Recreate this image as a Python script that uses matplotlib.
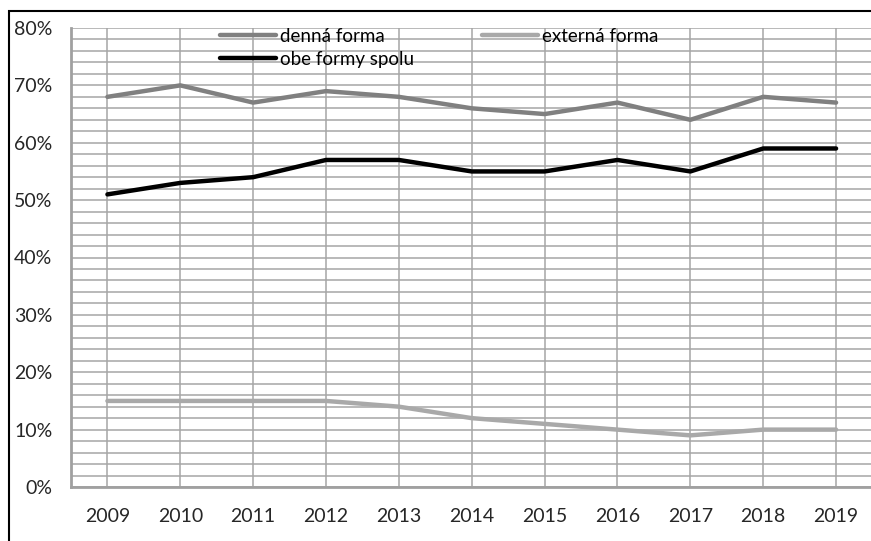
import matplotlib.pyplot as plt
from matplotlib.patches import Rectangle
from matplotlib.ticker import MultipleLocator, PercentFormatter

# Údaje z grafu (percentá)
roky = ['2009', '2010', '2011', '2012', '2013', '2014', '2015', '2016', '2017', '2018', '2019']
denna = [68, 70, 67, 69, 68, 66, 65, 67, 64, 68, 67]
externa = [15, 15, 15, 15, 14, 12, 11, 10, 9, 10, 10]
spolu = [51, 53, 54, 57, 57, 55, 55, 57, 55, 59, 59]

plt.rcParams['font.family'] = ['Lato', 'DejaVu Sans']

fig = plt.figure(figsize=(8.71, 5.41), dpi=100)
ax = fig.add_axes([71 / 871, 54 / 541, 801.5 / 871, 459 / 541])

x = list(range(len(roky)))
ax.plot(x, denna, color='#808080', lw=3.2, label='denná forma', solid_capstyle='round')
ax.plot(x, spolu, color='#000000', lw=3.2, label='obe formy spolu', solid_capstyle='round')
ax.plot(x, externa, color='#a9a9a9', lw=3.2, label='externá forma', solid_capstyle='round')

ax.set_xlim(-0.5, len(roky) - 0.5)
ax.set_ylim(0, 80)
ax.set_xticks(x)
ax.set_xticklabels(roky)
ax.yaxis.set_major_locator(MultipleLocator(10))
ax.yaxis.set_minor_locator(MultipleLocator(2))
ax.yaxis.set_major_formatter(PercentFormatter(decimals=0))

ax.grid(True, which='both', axis='y', color='#a6a6a6', lw=1.1)
ax.grid(True, which='major', axis='x', color='#a6a6a6', lw=1.1)
ax.set_axisbelow(True)
ax.tick_params(axis='both', which='both', length=0, labelsize=14, colors='#262626')
ax.tick_params(axis='y', pad=13.5)
ax.tick_params(axis='x', pad=15)
for s in ['top', 'right']:
    ax.spines[s].set_visible(False)
for s in ['left', 'bottom']:
    ax.spines[s].set_color('#a0a0a0')
    ax.spines[s].set_linewidth(2)

leg = ax.legend(loc='upper left', bbox_to_anchor=(0.165, 1.037), ncol=2, frameon=False,
                fontsize=13.5, handlelength=3.0, handletextpad=0.2, columnspacing=3.6,
                labelspacing=0.3)

# rámik okolo grafu
fig.patches.append(Rectangle((9 / 871, -0.1), 1.2, 1.1 - 11 / 541, transform=fig.transFigure,
                             fill=False, edgecolor='black', lw=1.5))

plt.savefig('out.png', dpi=100)
